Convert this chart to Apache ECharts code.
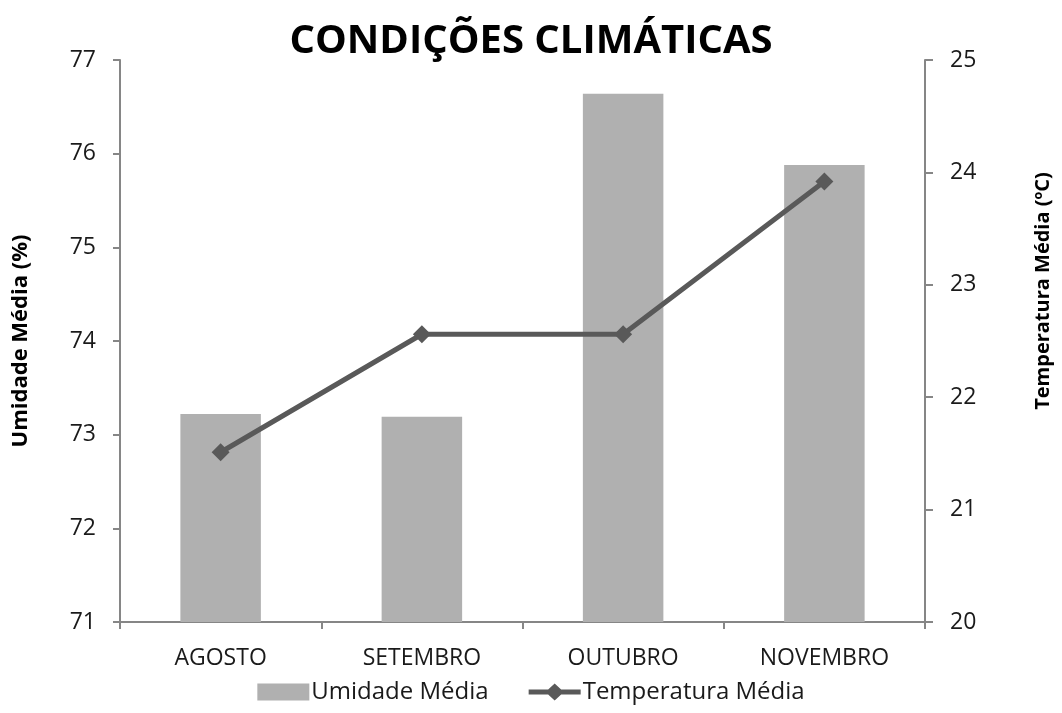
<!DOCTYPE html>
<html>
<head>
<meta charset="utf-8">
<style>
  html, body { margin: 0; padding: 0; background: #ffffff; }
  #chart { width: 1062px; height: 713px; }
</style>
<script src="https://cdn.jsdelivr.net/npm/echarts@6/dist/echarts.min.js"></script>
</head>
<body>
<div id="chart"></div>
<script>
// Monthly climate averages
var months = ['AGOSTO', 'SETEMBRO', 'OUTUBRO', 'NOVEMBRO'];
var humidity = [73.22, 73.19, 76.64, 75.88];      // Umidade Média (%)
var temperature = [21.51, 22.56, 22.56, 23.92];   // Temperatura Média (ºC)
var humidityTicks = { min: 71, max: 77, interval: 1 };
var temperatureTicks = { min: 20, max: 25, interval: 1 };

var FONT = '"Open Sans", "DejaVu Sans", sans-serif';
var AXIS_GRAY = '#868686';
var TEXT = '#1a1a1a';

// legend glyph for the temperature line: thick stroke with a diamond in the middle
var LINE_DIAMOND_ICON = 'path://M0,6 H19.5 L26,0 L32.5,6 H52 V11 H32.5 L26,17 L19.5,11 H0 Z';

var chart = echarts.init(document.getElementById('chart'), null, { renderer: 'canvas' });

chart.setOption({
  backgroundColor: '#ffffff',
  animation: false,
  title: {
    text: 'CONDIÇÕES CLIMÁTICAS',
    left: 'center',
    top: 17,
    textStyle: { fontFamily: FONT, fontWeight: 'bold', fontSize: 40, color: '#000000' }
  },
  legend: {
    bottom: 4,
    left: 'center',
    itemWidth: 52,
    itemHeight: 17,
    itemGap: 40,
    textStyle: { fontFamily: FONT, fontSize: 24, color: TEXT, padding: [0, 0, 0, -3] },
    data: [
      { name: 'Umidade Média', icon: 'rect' },
      { name: 'Temperatura Média', icon: LINE_DIAMOND_ICON }
    ]
  },
  grid: { left: 120, right: 137, top: 60, bottom: 91, containLabel: false },
  xAxis: {
    type: 'category',
    data: months,
    boundaryGap: true,
    axisLine: { lineStyle: { color: AXIS_GRAY, width: 2 } },
    axisTick: { show: true, length: 7, alignWithLabel: false, lineStyle: { color: AXIS_GRAY, width: 2 } },
    axisLabel: { fontFamily: FONT, fontSize: 23, color: TEXT, margin: 25 }
  },
  yAxis: [
    {
      type: 'value',
      position: 'left',
      min: humidityTicks.min,
      max: humidityTicks.max,
      interval: humidityTicks.interval,
      name: 'Umidade Média (%)',
      nameLocation: 'middle',
      nameRotate: 90,
      nameGap: 88,
      nameTextStyle: { fontFamily: FONT, fontWeight: 'bold', fontSize: 22, color: '#000000' },
      axisLine: { show: true, lineStyle: { color: AXIS_GRAY, width: 2 } },
      axisTick: { show: true, length: 7, lineStyle: { color: AXIS_GRAY, width: 2 } },
      axisLabel: { fontFamily: FONT, fontSize: 23, color: TEXT, margin: 24 },
      splitLine: { show: false }
    },
    {
      type: 'value',
      position: 'right',
      min: temperatureTicks.min,
      max: temperatureTicks.max,
      interval: temperatureTicks.interval,
      name: 'Temperatura Média (ºC)',
      nameLocation: 'middle',
      nameRotate: 90,
      nameGap: 108,
      nameTextStyle: { fontFamily: FONT, fontWeight: 'bold', fontSize: 20, color: '#000000', padding: [0, 0, 0, 100] },
      axisLine: { show: true, lineStyle: { color: AXIS_GRAY, width: 2 } },
      axisTick: { show: true, length: 8, lineStyle: { color: AXIS_GRAY, width: 2 } },
      axisLabel: { fontFamily: FONT, fontSize: 23, color: TEXT, margin: 25 },
      splitLine: { show: false }
    }
  ],
  series: [
    {
      name: 'Umidade Média',
      type: 'bar',
      yAxisIndex: 0,
      data: humidity,
      barWidth: '40%',
      itemStyle: { color: '#b0b0b0' }
    },
    {
      name: 'Temperatura Média',
      type: 'line',
      yAxisIndex: 1,
      data: temperature,
      symbol: 'diamond',
      symbolSize: 18,
      lineStyle: { color: '#595959', width: 5 },
      itemStyle: { color: '#595959' }
    }
  ]
});
</script>
</body>
</html>
